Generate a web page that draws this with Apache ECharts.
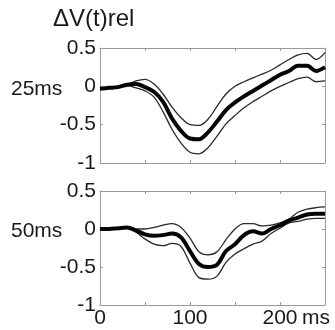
<!DOCTYPE html>
<html>
<head>
<meta charset="utf-8">
<script src="https://cdn.jsdelivr.net/npm/echarts@6/dist/echarts.min.js"></script>
<style>html,body{margin:0;padding:0;background:#fff}#c{width:335px;height:330px}</style>
</head>
<body>
<div id="c"></div>
<script>
// time (ms)
var timeMs = [0,10,20,30,40,50,60,70,80,90,100,110,120,130,140,150,160,170,180,190,200,210,220,230,240,250];
// 25ms condition
var mean25  = [-0.03,-0.02,-0.01,0.02,0.03,-0.01,-0.07,-0.2,-0.42,-0.58,-0.68,-0.69,-0.6,-0.46,-0.31,-0.21,-0.13,-0.06,0.01,0.08,0.15,0.2,0.27,0.27,0.2,0.25];
var upper25 = [-0.03,-0.02,-0.01,0.02,0.07,0.09,0.03,-0.1,-0.27,-0.41,-0.5,-0.51,-0.43,-0.26,-0.1,0.0,0.06,0.11,0.16,0.21,0.28,0.35,0.41,0.43,0.35,0.44];
var lower25 = [-0.03,-0.02,-0.01,0.01,-0.02,-0.06,-0.14,-0.33,-0.56,-0.74,-0.86,-0.88,-0.8,-0.65,-0.49,-0.38,-0.28,-0.2,-0.13,-0.06,0.0,0.05,0.1,0.12,0.06,0.07];
// 50ms condition
var mean50  = [0.0,0.0,0.01,0.02,-0.02,-0.07,-0.09,-0.08,-0.06,-0.11,-0.29,-0.46,-0.5,-0.47,-0.29,-0.2,-0.08,-0.03,-0.06,0.0,0.05,0.11,0.15,0.19,0.2,0.2];
var upper50 = [0.0,0.0,0.01,0.02,0.0,0.0,0.02,0.05,0.07,0.02,-0.12,-0.3,-0.34,-0.3,-0.14,0.0,0.07,0.07,0.04,0.05,0.08,0.13,0.22,0.26,0.28,0.29];
var lower50 = [0.0,0.0,0.01,0.02,-0.04,-0.13,-0.2,-0.22,-0.19,-0.23,-0.45,-0.64,-0.66,-0.62,-0.44,-0.33,-0.26,-0.2,-0.16,-0.06,0.01,0.08,0.1,0.13,0.14,0.14];
// tick labels
var xTickLabels = [0,100,200];
var yTickLabels = [-1,-0.5,0,0.5];
var rowLabels = ['25ms','50ms'];
var titleText = 'ΔV(t)rel';
var xUnit = 'ms';

var FONT = 'Liberation Sans, Arial, Helvetica, sans-serif';
var frameColor = '#9a9a9a';
function pairs(vals){ return timeMs.map(function(t,i){ return [t, vals[i]]; }); }

function xAx(grid, pos, labels){
  return {
    type:'value', gridIndex:grid, position:pos, min:0, max:250, interval:50,
    axisLine:{show:true, onZero:false, lineStyle:{color:frameColor, width:1}},
    axisTick:{show:true, inside:true, length:3, lineStyle:{color:frameColor}},
    splitLine:{show:false},
    axisLabel:{show:labels, margin:3, color:'#1a1a1a', fontSize:21, fontFamily:FONT,
      formatter:function(v){ return xTickLabels.indexOf(v) >= 0 ? String(v) : ''; }}
  };
}
function yAx(grid, pos, labels){
  return {
    type:'value', gridIndex:grid, position:pos, min:-1, max:0.5, interval:0.5,
    axisLine:{show:true, onZero:false, lineStyle:{color:frameColor, width:1}},
    axisTick:{show:true, inside:true, length:3, lineStyle:{color:frameColor}},
    splitLine:{show:false},
    axisLabel:{show:labels, margin:4, color:'#1a1a1a', fontSize:21, fontFamily:FONT,
      formatter:function(v){ return yTickLabels.indexOf(v) >= 0 ? String(v) : ''; }}
  };
}
function line(xi, yi, vals, w, col){
  return {type:'line', xAxisIndex:xi, yAxisIndex:yi, data:pairs(vals), showSymbol:false,
    smooth:0.35, silent:true, lineStyle:{width:w, color:col}, z:w>2?3:2};
}

var chart = echarts.init(document.getElementById('c'), null, {renderer:'canvas'});
chart.setOption({
  animation:false,
  backgroundColor:'#fff',
  grid:[
    {left:100, top:48, width:225, height:115},
    {left:100, top:191, width:225, height:114}
  ],
  xAxis:[xAx(0,'bottom',false), xAx(0,'top',false), xAx(1,'bottom',true), xAx(1,'top',false)],
  yAxis:[yAx(0,'left',true), yAx(0,'right',false), yAx(1,'left',true), yAx(1,'right',false)],
  series:[
    line(0,0,upper25,1.3,'#2a2a2a'),
    line(0,0,lower25,1.3,'#2a2a2a'),
    line(0,0,mean25,4,'#050505'),
    line(2,2,upper50,1.3,'#2a2a2a'),
    line(2,2,lower50,1.3,'#2a2a2a'),
    line(2,2,mean50,4,'#050505')
  ],
  graphic:[
    {type:'text', left:53, top:7, style:{text:titleText, font:'24px '+FONT, fill:'#1a1a1a'}},
    {type:'text', x:11, y:89, style:{text:rowLabels[0], font:'21px '+FONT, fill:'#1a1a1a', verticalAlign:'middle'}},
    {type:'text', x:11, y:231, style:{text:rowLabels[1], font:'21px '+FONT, fill:'#1a1a1a', verticalAlign:'middle'}},
    {type:'text', x:302, y:318, style:{text:xUnit, font:'21px '+FONT, fill:'#1a1a1a', verticalAlign:'middle'}}
  ]
});
</script>
</body>
</html>
